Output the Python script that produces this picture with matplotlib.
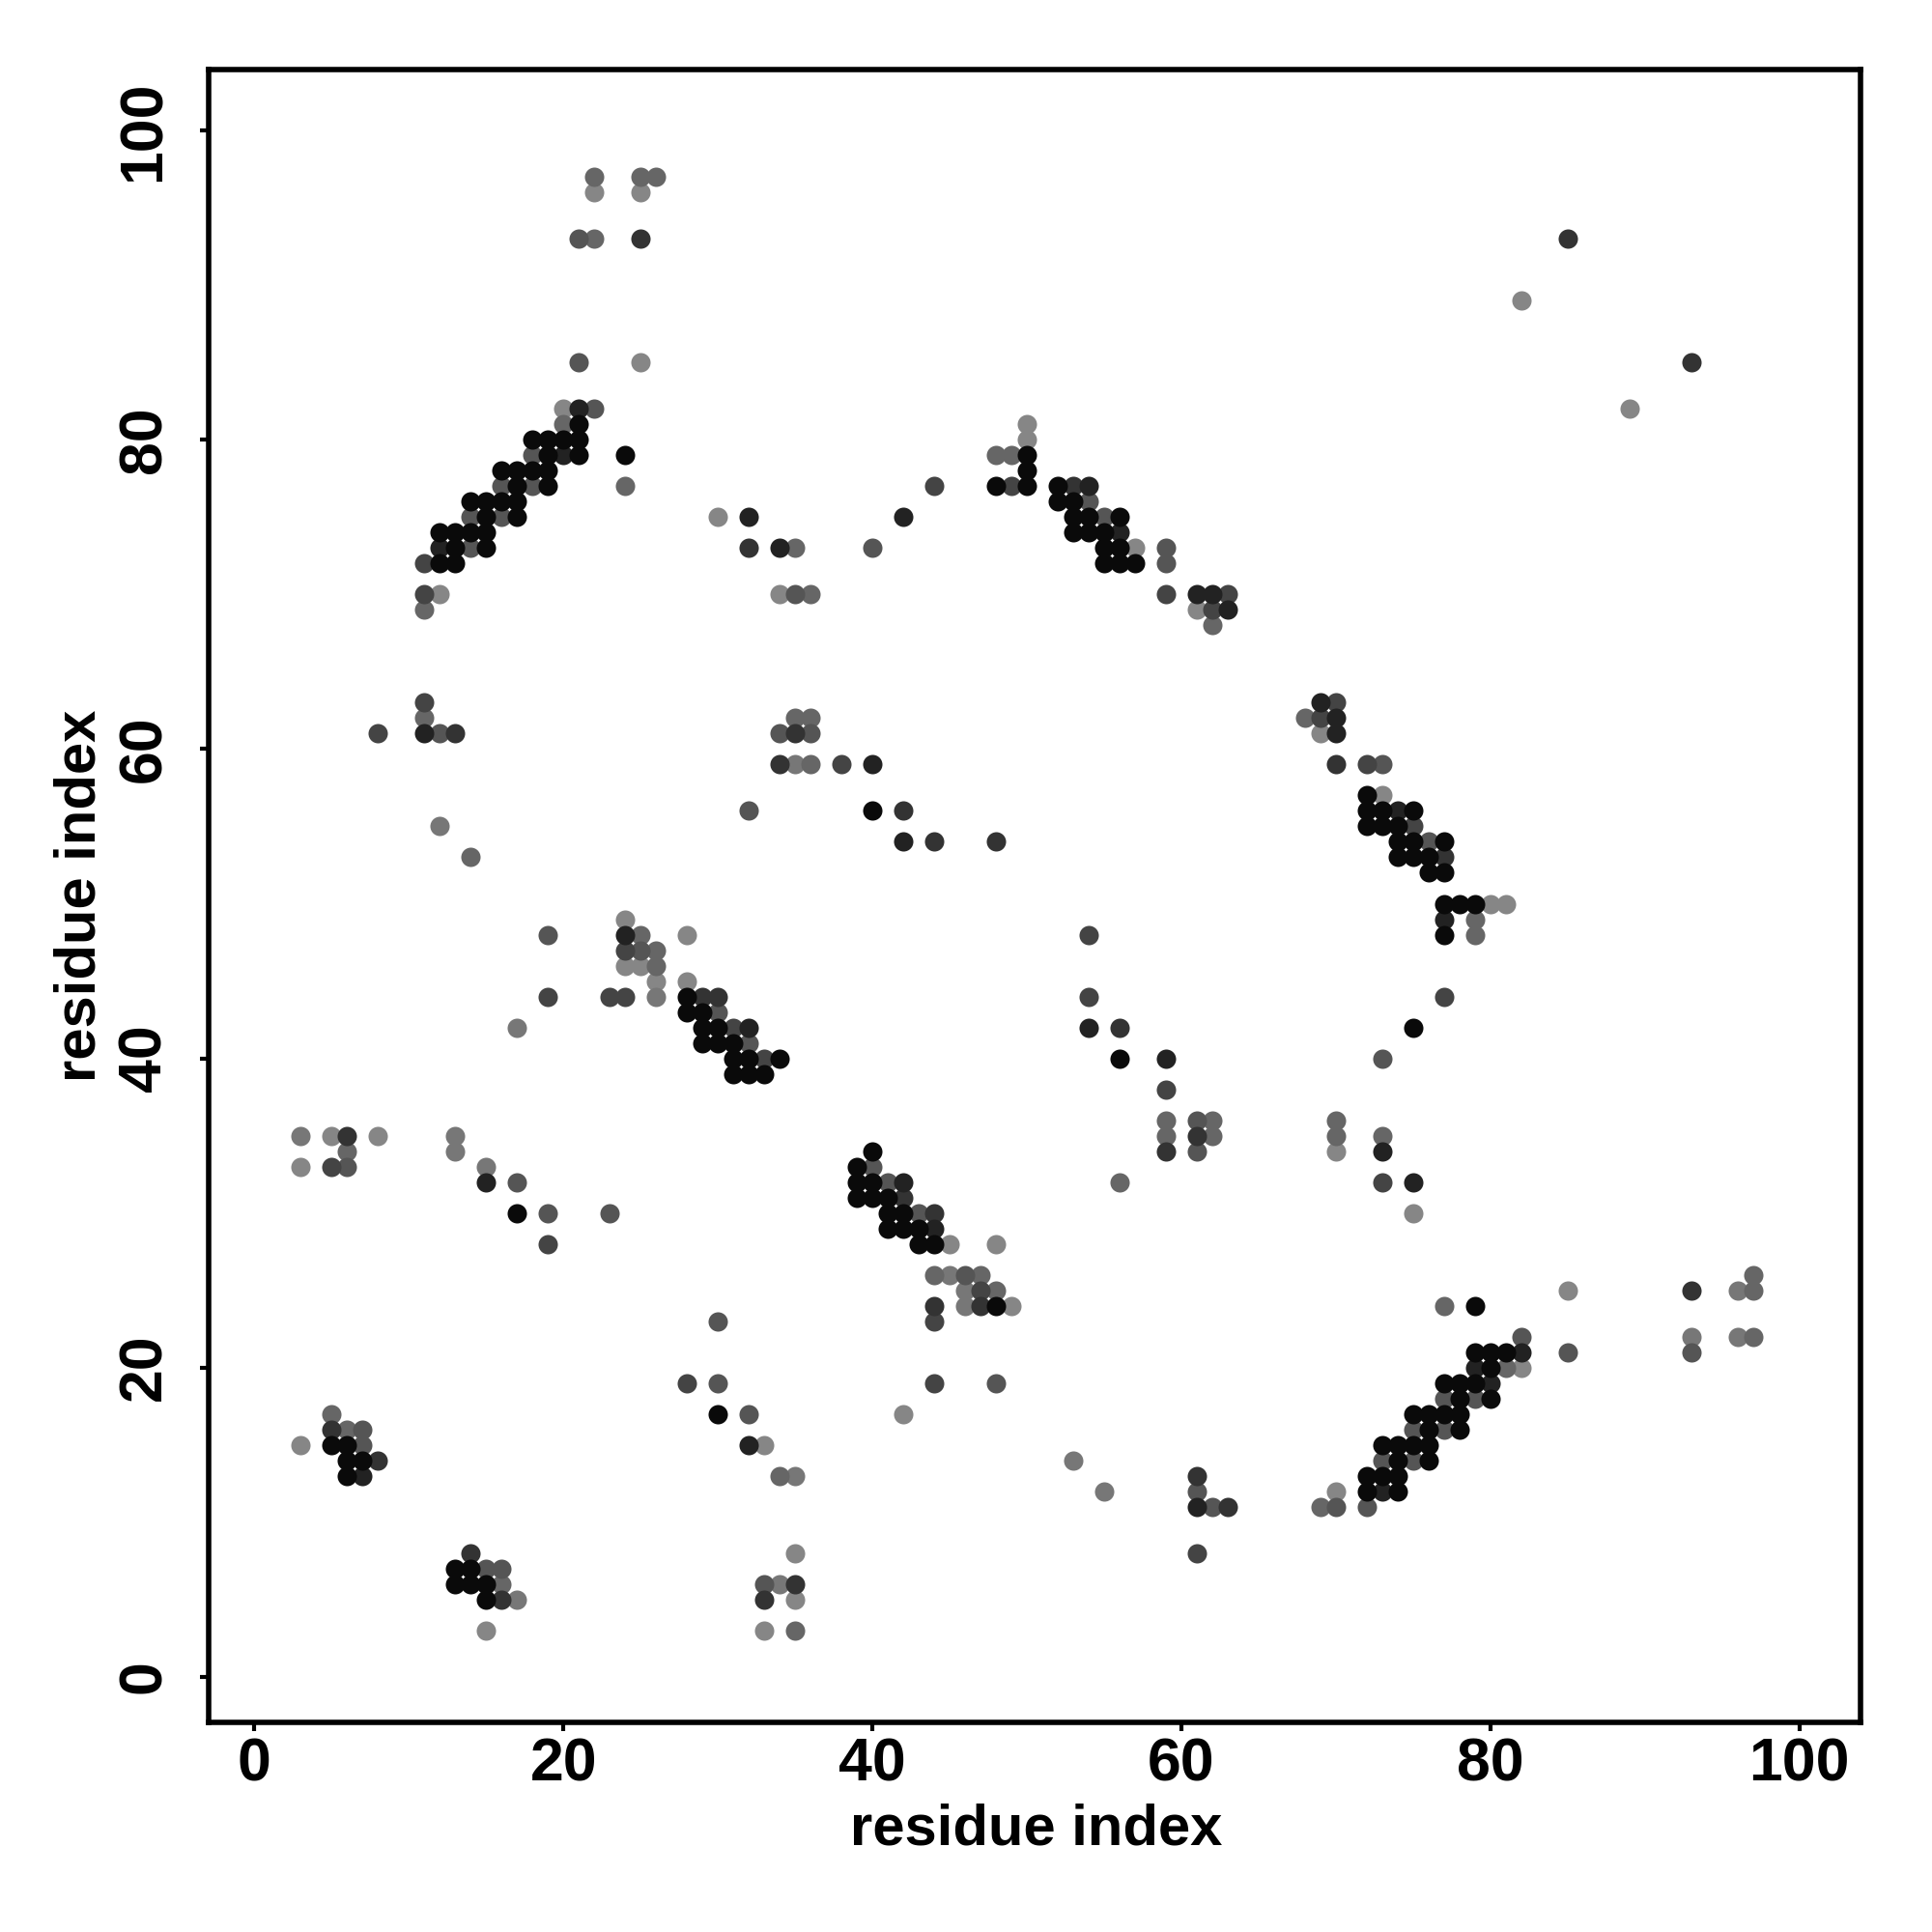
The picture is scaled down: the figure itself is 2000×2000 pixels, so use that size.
import matplotlib
matplotlib.use("Agg")
import matplotlib.pyplot as plt

# contact points grouped by grey level (residue i, residue j)
black = [(21, 81), (18, 80), (19, 80), (20, 80), (21, 80), (19, 79), (21, 79), (24, 79),
         (16, 78), (17, 78), (18, 78), (19, 78), (17, 77), (19, 77), (14, 76), (15, 76),
         (16, 76), (17, 76), (15, 75), (17, 75), (12, 74), (13, 74), (14, 74), (15, 74),
         (13, 73), (15, 73), (12, 72), (13, 72),
         (50, 79), (50, 78), (48, 77), (50, 77), (52, 77), (52, 76), (53, 76), (53, 75),
         (54, 75), (56, 75), (53, 74), (54, 74), (55, 74), (55, 73), (56, 73), (55, 72),
         (56, 72), (57, 72),
         (28, 44), (28, 43), (29, 43), (29, 42), (30, 42), (29, 41), (30, 41), (31, 41),
         (31, 40), (32, 40), (34, 40), (31, 39), (32, 39), (33, 39), (17, 30),
         (72, 57), (72, 56), (73, 56), (75, 56), (72, 55), (73, 55), (74, 55), (74, 54),
         (75, 54), (77, 54), (74, 53), (75, 53), (76, 53), (76, 52), (77, 52), (77, 50),
         (78, 50), (79, 50), (77, 48), (75, 42),
         (40, 56), (56, 40), (40, 34), (39, 33), (39, 32), (40, 32), (39, 31), (40, 31),
         (41, 31), (41, 30), (42, 30), (41, 29), (42, 29), (43, 29), (43, 28), (44, 28),
         (30, 17), (5, 15), (6, 15), (6, 14), (7, 14), (6, 13), (13, 7), (14, 7), (13, 6),
         (14, 6), (15, 6), (15, 5),
         (48, 24), (79, 24), (79, 21), (80, 21), (81, 21), (80, 20), (77, 19), (78, 19),
         (79, 19), (78, 18), (80, 18), (75, 17), (76, 17), (77, 17), (78, 17), (76, 16),
         (78, 16), (73, 15), (74, 15), (75, 15), (76, 15), (74, 14), (76, 14), (72, 13),
         (73, 13), (74, 13), (72, 12), (74, 12)]

grey22 = [(21, 82), (20, 79), (32, 75), (12, 73), (34, 73), (42, 75), (54, 77), (56, 74),
          (61, 70), (62, 70), (63, 69), (11, 61), (24, 48), (32, 42), (15, 32),
          (69, 63), (70, 62), (70, 61), (74, 56), (77, 49), (73, 34), (75, 32), (40, 59),
          (42, 54), (54, 42), (59, 40), (42, 32), (44, 29), (32, 15), (7, 13), (61, 11),
          (82, 21), (79, 20), (80, 19), (73, 12)]

grey33 = [(25, 93), (32, 73), (53, 77), (85, 93), (93, 85), (13, 61), (35, 61), (34, 59),
          (29, 44), (30, 44), (6, 35), (70, 59), (77, 53), (42, 56), (44, 54), (48, 54),
          (56, 42), (61, 35), (59, 34), (42, 31), (44, 30), (8, 14), (5, 16), (14, 8),
          (16, 5), (35, 6), (33, 5), (44, 24), (47, 24), (61, 13), (63, 11), (93, 25)]

grey44 = [(11, 72), (11, 70), (49, 77), (44, 77), (59, 70), (63, 70), (62, 69), (11, 63),
          (8, 61), (24, 47), (19, 44), (23, 44), (24, 44), (31, 42), (33, 40), (5, 33),
          (19, 28), (69, 62), (70, 63), (72, 59), (75, 55), (77, 44), (73, 32), (38, 59),
          (54, 48), (54, 44), (59, 38), (28, 19), (47, 25), (44, 23), (44, 19), (61, 8)]

grey55 = [(21, 93), (21, 85), (22, 82), (18, 79), (16, 77), (18, 77), (14, 75), (16, 75),
          (14, 73), (35, 70), (54, 76), (55, 75), (40, 73), (59, 73), (59, 72),
          (12, 61), (34, 61), (36, 61), (32, 56), (19, 48), (25, 47), (30, 43), (32, 41),
          (6, 33), (17, 32), (19, 30), (23, 30), (73, 59), (76, 54), (73, 40), (61, 36),
          (61, 34), (40, 33), (41, 32), (43, 30), (30, 23), (30, 19), (32, 17), (33, 6),
          (7, 16), (7, 15), (15, 7), (16, 7), (46, 26), (48, 19), (61, 12), (62, 11),
          (70, 11), (72, 11), (85, 21), (93, 21), (82, 22), (77, 18), (79, 18), (75, 16),
          (77, 16), (73, 14), (75, 14)]

grey66 = [(22, 97), (25, 97), (26, 97), (22, 93), (20, 81), (24, 77), (35, 73), (11, 69),
          (36, 70), (48, 79), (49, 79), (62, 68), (11, 62), (14, 53), (35, 62), (36, 62),
          (36, 59), (25, 48), (26, 47), (26, 46), (6, 34), (68, 62), (79, 49), (79, 48),
          (59, 36), (62, 36), (59, 35), (62, 35), (70, 36), (70, 35), (73, 35), (56, 32),
          (34, 13), (35, 3), (5, 17), (6, 16), (16, 6), (44, 26), (47, 26), (48, 25),
          (69, 11), (77, 24), (97, 26), (97, 25), (97, 22), (81, 20)]

grey77 = [(12, 55), (35, 59), (26, 44), (17, 42), (3, 35), (13, 35), (13, 34), (15, 33),
          (35, 13), (34, 6), (17, 5), (45, 26), (46, 25), (46, 24), (53, 14), (55, 12),
          (93, 22), (96, 25), (96, 22)]

grey88 = [(22, 96), (25, 96), (25, 85), (20, 82), (30, 75), (12, 70), (34, 70), (50, 81),
          (50, 80), (57, 73), (61, 69), (82, 89), (89, 82), (24, 49), (28, 48), (24, 46),
          (25, 46), (26, 45), (28, 45), (5, 35), (8, 35), (3, 33), (69, 61), (73, 57),
          (80, 50), (81, 50), (70, 34), (75, 30), (45, 28), (48, 28), (35, 8), (35, 5),
          (33, 3), (3, 15), (15, 3), (33, 15), (49, 24), (42, 17), (70, 12), (85, 25),
          (82, 20)]

groups = [(grey88, "#868686"), (grey77, "#777777"), (grey66, "#666666"),
          (grey55, "#555555"), (grey44, "#444444"), (grey33, "#333333"),
          (grey22, "#222222"), (black, "#0a0a0a")]

plt.rcParams['font.family'] = ['Liberation Sans', 'DejaVu Sans']
plt.rcParams['font.weight'] = 'bold'

fig = plt.figure(figsize=(10, 10), dpi=200)
ax = fig.add_axes([0.108, 0.1085, 0.855, 0.8555])

for pts, col in groups:
    xs = [p[0] for p in pts]
    ys = [p[1] for p in pts]
    ax.scatter(xs, ys, s=52, color=col, linewidths=0)

ax.set_xlim(-2.96, 103.96)
ax.set_ylim(-2.96, 103.96)
ax.set_xticks([0, 20, 40, 60, 80, 100])
ax.set_yticks([0, 20, 40, 60, 80, 100])

for sp in ax.spines.values():
    sp.set_linewidth(2.0)

ax.tick_params(axis='both', direction='out', length=3.3, width=1.5, labelsize=22.5)
ax.tick_params(axis='x', pad=2)
ax.tick_params(axis='y', pad=10, labelrotation=90)
for lbl in ax.get_yticklabels():
    lbl.set_va('center')
for lbl in ax.get_xticklabels() + ax.get_yticklabels():
    lbl.set_fontweight('bold')

fig.text(0.5365, 0.045, "residue index", ha='center', va='baseline',
         fontsize=21.5, fontweight='bold')
fig.text(0.0415, 0.5365, "residue index", ha='center', va='center', rotation=90,
         fontsize=21.5, fontweight='bold')

fig.savefig("out.png", dpi=200)
